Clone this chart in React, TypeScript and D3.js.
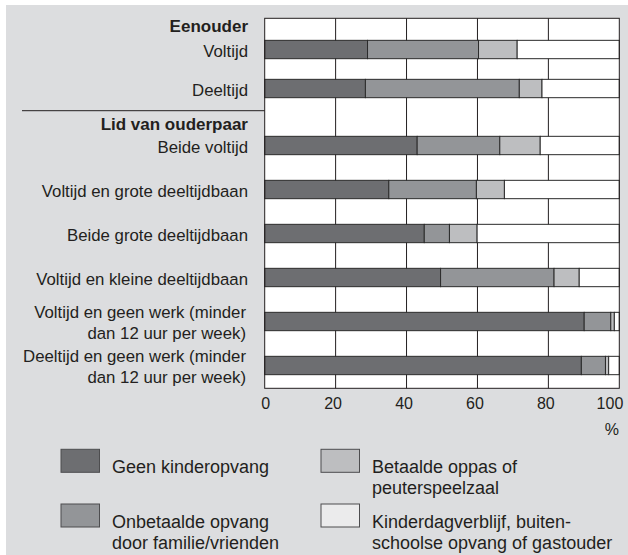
import React from 'react';
import * as d3 from 'd3';

// categories per group
const eenouderLabels = ['Voltijd', 'Deeltijd'];
const ouderpaarLabels = [
  'Beide voltijd',
  'Voltijd en grote deeltijdbaan',
  'Beide grote deeltijdbaan',
  'Voltijd en kleine deeltijdbaan',
  'Voltijd en geen werk (minder\ndan 12 uur per week)',
  'Deeltijd en geen werk (minder\ndan 12 uur per week)',
];
const categories = [...eenouderLabels, ...ouderpaarLabels];

// series values (%), same order as categories
const geenKinderopvang = [29, 28.4, 43, 35, 45, 49.6, 90.1, 89.3];
const onbetaaldeOpvang = [31.3, 43.4, 23.3, 24.7, 7.1, 32, 7.5, 6.8];
const betaaldeOppas = [10.9, 6.4, 11.4, 7.9, 7.8, 7.1, 1, 0.9];
const kinderdagverblijf = [28.8, 21.8, 22.3, 32.4, 40.1, 11.3, 1.4, 3];

const keys = ['geen', 'onbetaald', 'betaald', 'kdv'];
const seriesNames = [
  'Geen kinderopvang',
  'Onbetaalde opvang\ndoor familie/vrienden',
  'Betaalde oppas of\npeuterspeelzaal',
  'Kinderdagverblijf, buiten-\nschoolse opvang of gastouder',
];
const xTicks = [0, 20, 40, 60, 80, 100];

const barColors = ['#6d6e71', '#939598', '#bdbec0', '#ffffff'];
const legendColors = ['#6d6e71', '#939598', '#bdbec0', '#ebebec'];

const W = 628;
const H = 555;
const font = '"Liberation Sans", Arial, Helvetica, sans-serif';
const ink = '#231f20';

export default function App() {
  const left = 264.7;
  const right = 619.3;
  const top = 18.3;
  const bottom = 388.3;
  const sepY = 110.7;

  const x = d3.scaleLinear().domain([0, 100]).range([left, right]);

  // two groups, each with its own band scale
  const yUpper = d3.scaleBand<string>()
    .domain(eenouderLabels)
    .range([30, 108])
    .paddingInner(0.53)
    .paddingOuter(0.265);
  const yLower = d3.scaleBand<string>()
    .domain(ouderpaarLabels)
    .range([123.5, 387.5])
    .paddingInner(0.583)
    .paddingOuter(0.2915);
  const yPos = (c: string) => (eenouderLabels.includes(c) ? yUpper(c)! : yLower(c)!);
  const bw = yLower.bandwidth();

  const table = categories.map((c, i) => ({
    cat: c,
    geen: geenKinderopvang[i],
    onbetaald: onbetaaldeOpvang[i],
    betaald: betaaldeOppas[i],
    kdv: kinderdagverblijf[i],
  }));
  const stacked = d3.stack<any>().keys(keys)(table);

  const legendCols = [61, 321];
  const legendRows = [449.3, 504];
  // legend order: column-wise
  const legendPos = [
    [0, 0],
    [0, 1],
    [1, 0],
    [1, 1],
  ];

  return (
    <svg width={W} height={H} style={{ position: 'absolute', left: 0, top: 0 }} fontFamily={font}>
      <rect x={6} y={5} width={W - 6} height={H - 5} fill="#dcdddf" />

      {/* plot area */}
      <rect x={left} y={top} width={right - left} height={bottom - top} fill="#fff" />
      {xTicks.slice(1, -1).map((t) => (
        <line key={t} x1={x(t)} x2={x(t)} y1={top} y2={bottom} stroke="#231f20" strokeWidth={1} />
      ))}

      {/* bars */}
      {stacked.map((s, si) => (
        <g key={s.key}>
          {s.map((d, i) => (
            <rect
              key={i}
              x={x(d[0])}
              y={yPos(categories[i])}
              width={x(d[1]) - x(d[0])}
              height={bw}
              fill={barColors[si]}
              stroke="#2b2b2b"
              strokeWidth={1}
            />
          ))}
        </g>
      ))}

      <rect x={left} y={top} width={right - left} height={bottom - top} fill="none" stroke="#231f20" strokeWidth={1} />

      {/* group headers */}
      <text x={248} y={31.7} textAnchor="end" fontSize={17} fontWeight="bold" fill={ink}>Eenouder</text>
      <line x1={22} x2={left} y1={sepY} y2={sepY} stroke="#231f20" strokeWidth={1} />
      <text x={248} y={130} textAnchor="end" fontSize={17} fontWeight="bold" fill={ink}>Lid van ouderpaar</text>

      {/* category labels */}
      {categories.map((c) => {
        const lines = c.split('\n');
        const cy = yPos(c) + bw / 2;
        const y0 = lines.length === 1 ? cy + 7.3 : cy - 4;
        const tx = lines.length === 1 ? 248 : 246;
        return (
          <text key={c} x={tx} y={y0} textAnchor="end" fontSize={16.8} fill={ink}>
            {lines.map((l, li) => (
              <tspan key={li} x={tx} dy={li === 0 ? 0 : 21.5}>{l}</tspan>
            ))}
          </text>
        );
      })}

      {/* x axis labels */}
      {xTicks.map((t, i) => (
        <text
          key={t}
          x={i === xTicks.length - 1 ? x(t) + 4 : x(t) + (i === 0 ? 1 : -2.5)}
          y={409.3}
          textAnchor={i === xTicks.length - 1 ? 'end' : 'middle'}
          fontSize={16}
          fill={ink}
        >
          {t}
        </text>
      ))}
      <text x={619} y={435} textAnchor="end" fontSize={16} fill={ink}>%</text>

      {/* legend */}
      {seriesNames.map((name, i) => {
        const [ci, ri] = legendPos[i];
        const lx = legendCols[ci];
        const ly = legendRows[ri];
        return (
          <g key={name}>
            <rect x={lx} y={ly} width={38.5} height={23} fill={legendColors[i]} stroke="#4d4d4f" strokeWidth={1} />
            <text x={lx + 51} y={ly + 23.5} fontSize={18} fill={ink}>
              {name.split('\n').map((l, li) => (
                <tspan key={li} x={lx + 51} dy={li === 0 ? 0 : 21}>{l}</tspan>
              ))}
            </text>
          </g>
        );
      })}
    </svg>
  );
}
